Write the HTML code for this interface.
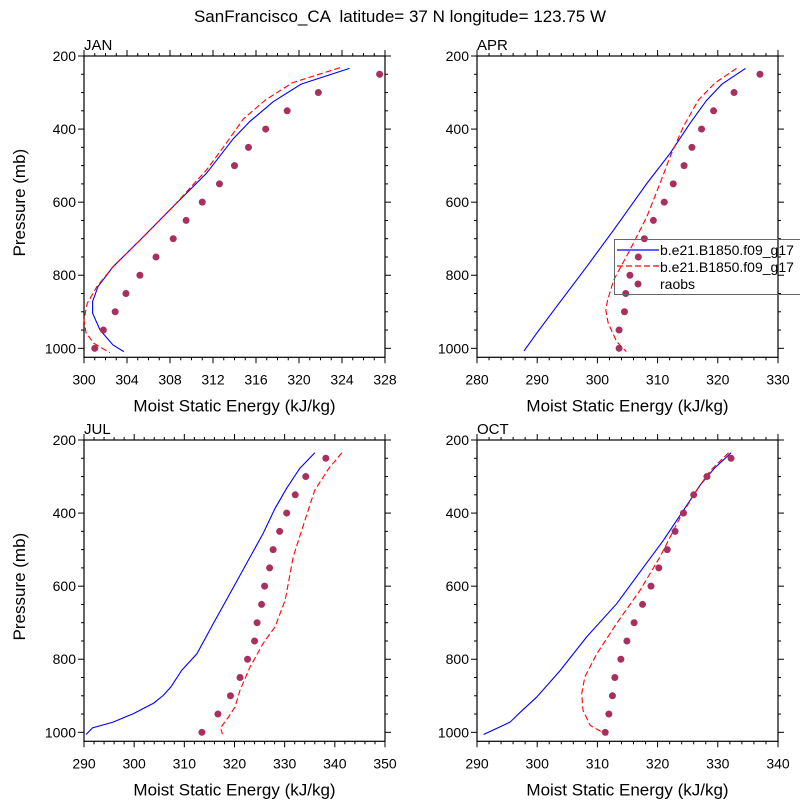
<!DOCTYPE html>
<html><head><meta charset="utf-8"><style>
html,body{margin:0;padding:0;background:#fff;}
svg{display:block;font-family:"Liberation Sans",sans-serif;}
</style></head><body>
<svg id="c" width="800" height="800" viewBox="0 0 800 800">
<text x="400" y="22" text-anchor="middle" font-size="17" style="white-space:pre">SanFrancisco_CA  latitude= 37 N longitude= 123.75 W</text>
</svg>
<script>
// Data arrays (top level)
const obsP = [250,300,350,400,450,500,550,600,650,700,750,800,850,900,950,1000];
const janObs = [327.5,321.8,318.9,316.9,315.3,314.0,312.6,311.0,309.5,308.3,306.7,305.2,303.9,302.9,301.8,301.0];
const aprObs = [327,322.7,319.3,317.3,315.7,314.4,312.6,311.1,309.3,307.8,306.8,305.4,304.7,304.5,303.6,303.6];
const julObs = [338.2,334.2,332.1,330.4,329.0,327.7,327.0,326.0,325.4,324.5,324.0,322.6,321.1,319.2,316.7,313.5];
const octObs = [332.2,328.2,326.0,324.3,322.9,321.6,320.2,318.9,317.5,316.1,314.9,313.9,312.9,312.5,311.9,311.3];

const janBlueP = [234,277,325,380,426,521,612,704,777,831,872,904,950,991,1009];
const janBlue  = [324.7,320.2,317.6,315.4,313.9,311.4,308.3,305.2,302.7,301.3,300.8,300.8,301.5,302.7,303.7];
const janRedP  = [232,273,320,373,440,512,612,704,777,831,877,922,958,986,1012];
const janRed   = [323.8,319.4,316.9,314.8,313.2,311.4,308.3,305.2,302.7,301.2,300.3,300.0,300.2,300.9,302.4];

const aprBlueP = [234,277,322,384,466,549,676,777,886,959,1007];
const aprBlue  = [324.6,320.7,318.1,315.4,312.1,308.2,302.7,298.2,293.2,289.9,287.8];
const aprRedP  = [234,273,320,393,475,549,640,731,813,868,895,931,982,1009];
const aprRed   = [323.1,319.6,316.8,314.3,312.1,310.4,308.2,305.4,302.7,301.7,301.4,301.8,303.2,304.8];

const julBlueP = [235,278,332,387,456,538,620,702,785,830,876,899,920,949,972,988,1006];
const julBlue  = [336.0,333.0,330.4,328.1,325.7,322.4,319.1,315.8,312.5,309.5,307.3,305.8,303.9,299.8,295.8,291.7,290.4];
const julRedP  = [235,278,337,447,520,638,711,757,821,885,931,958,988,1005];
const julRed   = [341.4,338.8,336.0,333.4,331.7,330.1,328.1,325.7,323.1,321.1,320.1,318.8,317.2,317.6];

const octBlueP = [235,278,323,392,474,547,648,739,831,904,945,972,1006];
const octBlue  = [332.2,329.4,327.1,324.3,321.0,317.7,313.2,308.2,303.8,299.9,297.2,295.5,291.1];
const octRedP  = [235,283,337,410,520,611,702,785,849,894,940,981,1008];
const octRed   = [331.8,328.8,326.5,323.8,320.4,317.1,313.2,309.9,307.9,307.4,307.6,308.8,311.7];

const pTicks = [200,400,600,800,1000];
const janXTicks = [300,304,308,312,316,320,324,328];
const aprXTicks = [280,290,300,310,320,330];
const julXTicks = [290,300,310,320,330,340,350];
const octXTicks = [290,300,310,320,330,340];

const svg = document.getElementById('c');
const NS = 'http://www.w3.org/2000/svg';
function mk(tag, attrs, parent){
  const e = document.createElementNS(NS, tag);
  for (const k in attrs) e.setAttribute(k, attrs[k]);
  (parent||svg).appendChild(e);
  return e;
}

function panel(cfg){
  const L=cfg.x0, R=cfg.x0+301, T=cfg.y0, B=cfg.y0+301.3;
  const xs = v => L + (v-cfg.xmin)/(cfg.xmax-cfg.xmin)*(R-L);
  const ys = p => T + (p-200)*0.3654;
  const g = mk('g', {});
  
  
  const fr = mk('rect', {x:L,y:T,width:R-L,height:B-T,fill:'none',stroke:'#000','stroke-width':1.2}, g);
  
  
  for (let p=200; p<=1025; p+=50){
    const major = p%200===0;
    const len = major?6:3;
    mk('line',{x1:L-len,y1:ys(p),x2:L,y2:ys(p),stroke:'#000','stroke-width':1},g);
    mk('line',{x1:R,y1:ys(p),x2:R+len,y2:ys(p),stroke:'#000','stroke-width':1},g);
  }
  pTicks.forEach(p=>{
    const t = mk('text',{x:L-8,y:ys(p)+5,'text-anchor':'end','font-size':14},g);
    t.textContent = p;
    
    
  });
  for (let v=cfg.xmin; v<=cfg.xmax+1e-9; v+=cfg.minor){
    const major = Math.abs(((v-cfg.xmin)/cfg.major) - Math.round((v-cfg.xmin)/cfg.major))<1e-6;
    const len = major?6:3;
    mk('line',{x1:xs(v),y1:B,x2:xs(v),y2:B+len,stroke:'#000','stroke-width':1},g);
    mk('line',{x1:xs(v),y1:T-len,x2:xs(v),y2:T,stroke:'#000','stroke-width':1},g);
  }
  cfg.xticks.forEach(v=>{
    const t = mk('text',{x:xs(v),y:B+27,'text-anchor':'middle','font-size':14},g);
    t.textContent = v;
    
    
  });
  const xt = mk('text',{x:(L+R)/2,y:B+54,'text-anchor':'middle','font-size':17},g);
  xt.textContent = 'Moist Static Energy (kJ/kg)';
  
  
  if (cfg.ylabel){
    const yt = mk('text',{x:0,y:0,'text-anchor':'middle','font-size':17,transform:`translate(25,${(T+B)/2-4}) rotate(-90)`},g);
    yt.textContent = 'Pressure (mb)';
    
    
  }
  const pl = mk('text',{x:L,y:T-6,'font-size':15},g);
  pl.textContent = cfg.label;
  
  
  const path = (vals, ps) => vals.map((v,i)=>(i?'L':'M')+xs(v).toFixed(1)+','+ys(ps[i]).toFixed(1)).join('');
  const bl = mk('path',{d:path(cfg.blue,cfg.blueP),fill:'none',stroke:'#0000ff','stroke-width':1.1},g);
  
  
  const rl = mk('path',{d:path(cfg.red,cfg.redP),fill:'none',stroke:'#ff0000','stroke-width':1.1,'stroke-dasharray':'6,3'},g);
  
  
  cfg.obs.forEach((v,i)=>{
    const c = mk('circle',{cx:xs(v),cy:ys(obsP[i]),r:3.5,fill:'#a8305f'},g);
    
    
  });
}

panel({name:'jan',label:'JAN',x0:84,y0:56,xmin:300,xmax:328,major:4,minor:1,xticks:janXTicks,ylabel:true,blue:janBlue,blueP:janBlueP,red:janRed,redP:janRedP,obs:janObs});
panel({name:'apr',label:'APR',x0:477,y0:56,xmin:280,xmax:330,major:10,minor:2,xticks:aprXTicks,ylabel:false,blue:aprBlue,blueP:aprBlueP,red:aprRed,redP:aprRedP,obs:aprObs});
panel({name:'jul',label:'JUL',x0:84,y0:440,xmin:290,xmax:350,major:10,minor:2,xticks:julXTicks,ylabel:true,blue:julBlue,blueP:julBlueP,red:julRed,redP:julRedP,obs:julObs});
panel({name:'oct',label:'OCT',x0:477,y0:440,xmin:290,xmax:340,major:10,minor:2,xticks:octXTicks,ylabel:false,blue:octBlue,blueP:octBlueP,red:octRed,redP:octRedP,obs:octObs});

const lg = mk('g',{});


mk('rect',{x:614.5,y:239.5,width:200,height:55,fill:'none',stroke:'#666','stroke-width':1},lg);
mk('line',{x1:617,y1:250,x2:659,y2:250,stroke:'#0000ff','stroke-width':1.2},lg);
mk('line',{x1:617,y1:266,x2:659,y2:266,stroke:'#ff0000','stroke-width':1.2,'stroke-dasharray':'6,3'},lg);
mk('circle',{cx:638,cy:284,r:3.5,fill:'#a8305f'},lg);
const names = ['b.e21.B1850.f09_g17','b.e21.B1850.f09_g17','raobs'];
names.forEach((n,i)=>{
  const t = mk('text',{x:660,y:255+i*17,'font-size':14},lg);
  t.textContent = n;
  
  
});
</script>
</body></html>
